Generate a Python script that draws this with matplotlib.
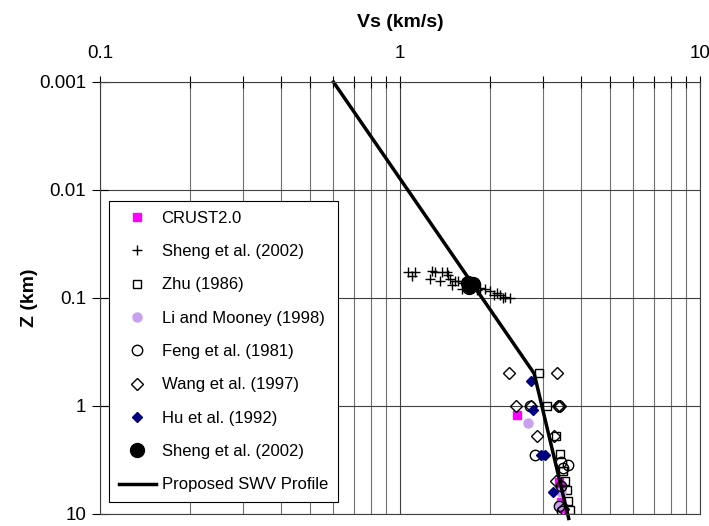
import numpy as np
import matplotlib.pyplot as plt
from matplotlib.ticker import LogLocator, FixedLocator, NullFormatter

plt.rcParams['font.family'] = ['Liberation Sans', 'DejaVu Sans']

# Data (Vs in km/s, depth Z in km)
crust_vs = [2.45, 3.40, 3.45, 3.45, 3.50]
crust_z = [1.22, 5.1, 5.6, 7.8, 8.8]

sheng_cross_vs = [1.06, 1.12, 1.10, 1.28, 1.31, 1.26, 1.38, 1.43, 1.44, 1.36,
                  1.47, 1.49, 1.52, 1.56, 1.61, 1.62, 1.67, 1.75, 1.80, 1.85,
                  1.92, 2.00, 2.10, 2.15, 2.24, 2.33, 2.05, 2.20]
sheng_cross_z = [0.057, 0.058, 0.063, 0.056, 0.058, 0.066, 0.058, 0.057, 0.061, 0.070,
                 0.067, 0.075, 0.070, 0.070, 0.083, 0.072, 0.070, 0.072, 0.085, 0.080,
                 0.083, 0.087, 0.089, 0.093, 0.097, 0.099, 0.094, 0.099]

zhu_vs = [2.90, 3.10, 3.31, 3.42, 3.50, 3.55, 3.60, 3.63, 3.70]
zhu_z = [0.49, 1.0, 1.9, 2.8, 4.0, 5.0, 6.0, 7.5, 9.2]

li_vs = [2.67, 3.45, 3.40]
li_z = [1.44, 6.2, 8.3]

feng_vs = [2.72, 2.82, 3.45, 3.62, 3.50, 3.45, 3.40, 3.48, 3.38]
feng_z = [1.0, 2.85, 3.3, 3.5, 3.75, 5.5, 8.5, 9.3, 1.0]

wang_vs = [2.31, 3.34, 2.44, 2.73, 3.37, 3.42, 2.86, 3.25, 3.30, 3.50]
wang_z = [0.5, 0.5, 1.0, 1.0, 1.0, 1.0, 1.9, 1.9, 5.0, 9.0]

hu_vs = [2.73, 2.78, 2.95, 3.05, 3.23]
hu_z = [0.59, 1.09, 2.85, 2.85, 6.3]

sheng_circ_vs = [1.68, 1.72, 1.75, 1.70]
sheng_circ_z = [0.072, 0.076, 0.074, 0.079]

profile_vs = [0.60, 2.80, 3.65]
profile_z = [0.001, 0.5, 11.0]

fig = plt.figure(figsize=(7.09, 5.26), dpi=100)
ax = fig.add_axes([100 / 709, 12 / 526, 600 / 709, 432 / 526])

ax.set_xscale('log')
ax.set_yscale('log')
ax.set_xlim(0.1, 10)
ax.set_ylim(10, 0.001)

ax.plot(crust_vs, crust_z, 's', color='#ff00ff', ms=6, mec='#ff00ff', label='CRUST2.0')
ax.plot(sheng_cross_vs, sheng_cross_z, '+', color='black', ms=7, mew=1, label='Sheng et al. (2002)')
ax.plot(zhu_vs, zhu_z, 's', mfc='none', mec='black', ms=6, mew=1, label='Zhu (1986)')
ax.plot(li_vs, li_z, 'o', color='#c8a0f0', ms=6.5, label='Li and Mooney (1998)')
ax.plot(feng_vs, feng_z, 'o', mfc='none', mec='black', ms=7.5, mew=1, label='Feng et al. (1981)')
ax.plot(wang_vs, wang_z, 'D', mfc='none', mec='black', ms=6.5, mew=1, label='Wang et al. (1997)')
ax.plot(hu_vs, hu_z, 'D', color='#000080', ms=5, label='Hu et al. (1992)')
ax.plot(sheng_circ_vs, sheng_circ_z, 'o', color='black', ms=10, label='Sheng et al. (2002)')
ax.plot(profile_vs, profile_z, '-', color='black', lw=2.5, clip_on=False,
        label='Proposed SWV Profile')

# ticks on top, crossing the axis
ax.xaxis.tick_top()
ax.xaxis.set_label_position('top')
ax.xaxis.set_major_locator(FixedLocator([0.1, 1, 10]))
ax.xaxis.set_minor_locator(LogLocator(base=10, subs=np.arange(2, 10)))
ax.xaxis.set_minor_formatter(NullFormatter())
ax.set_xticklabels(['0.1', '1', '10'])
ax.yaxis.set_major_locator(FixedLocator([0.001, 0.01, 0.1, 1, 10]))
ax.yaxis.set_minor_locator(FixedLocator([]))
ax.set_yticklabels(['0.001', '0.01', '0.1', '1', '10'])
ax.tick_params(axis='x', which='both', direction='inout', length=9, width=0.8,
               labelsize=13.5, pad=10)
ax.tick_params(axis='y', which='major', direction='inout', length=12, width=0.8,
               labelsize=13.5, pad=4)

ax.grid(True, which='major', axis='both', color='#404040', lw=0.8)
ax.grid(True, which='minor', axis='x', color='#707070', lw=0.8)
ax.set_axisbelow(True)
for s in ax.spines.values():
    s.set_linewidth(0.8)
    s.set_color('#404040')

ax.set_xlabel('Vs (km/s)', fontsize=14, fontweight='bold', labelpad=13)
ax.set_ylabel('Z (km)', fontsize=14, fontweight='bold')
ax.yaxis.set_label_coords(-0.103, 0.5)

leg = ax.legend(loc='upper left', bbox_to_anchor=(0.015, 0.725), borderaxespad=0,
                fontsize=12, frameon=True, fancybox=False, framealpha=1,
                edgecolor='black', labelspacing=1.1, handlelength=2.2,
                handletextpad=0.35, borderpad=0.6, numpoints=1)
leg.get_frame().set_linewidth(0.8)

fig.savefig('out.png', dpi=100)
